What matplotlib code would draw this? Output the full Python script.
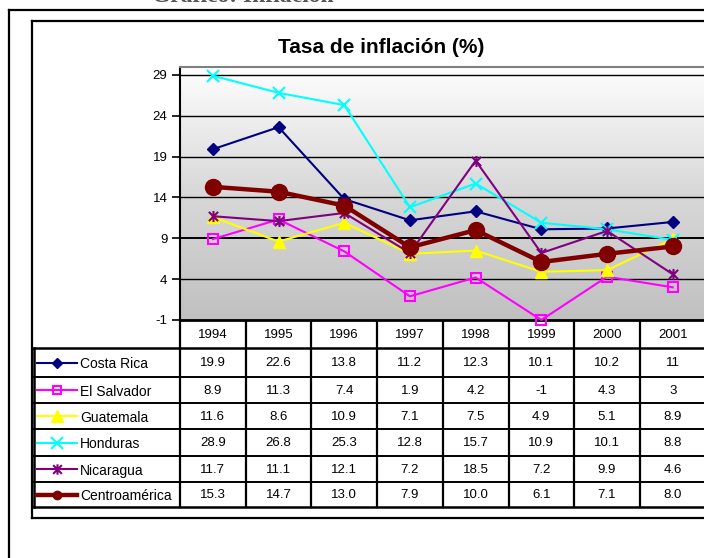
import numpy as np
import matplotlib
matplotlib.use("Agg")
import matplotlib.pyplot as plt
from matplotlib import font_manager
from matplotlib.path import Path
from matplotlib.colors import LinearSegmentedColormap
from matplotlib.transforms import blended_transform_factory

# ---------------- data ----------------
years = ["1994", "1995", "1996", "1997", "1998", "1999", "2000", "2001"]
series_names = ["Costa Rica", "El Salvador", "Guatemala", "Honduras", "Nicaragua", "Centroamérica"]
costa_rica = [19.9, 22.6, 13.8, 11.2, 12.3, 10.1, 10.2, 11]
el_salvador = [8.9, 11.3, 7.4, 1.9, 4.2, -1, 4.3, 3]
guatemala = [11.6, 8.6, 10.9, 7.1, 7.5, 4.9, 5.1, 8.9]
honduras = [28.9, 26.8, 25.3, 12.8, 15.7, 10.9, 10.1, 8.8]
nicaragua = [11.7, 11.1, 12.1, 7.2, 18.5, 7.2, 9.9, 4.6]
centroamerica = [15.3, 14.7, 13.0, 7.9, 10.0, 6.1, 7.1, 8.0]
yticks = [-1, 4, 9, 14, 19, 24, 29]
title = "Tasa de inflación (%)"
heading = "Gráfico: Inflación"

all_series = [costa_rica, el_salvador, guatemala, honduras, nicaragua, centroamerica]

# ---------------- fonts ----------------
names = {f.name for f in font_manager.fontManager.ttflist}
if "Liberation Sans Narrow" in names:
    TFONT, TSIZE = "Liberation Sans Narrow", 10.5
else:
    TFONT, TSIZE = "Liberation Sans", 9.5
plt.rcParams["font.family"] = ["Liberation Sans", "DejaVu Sans"]

# asterisk marker (x plus vertical bar)
star = Path([(-1, -1), (1, 1), (-1, 1), (1, -1), (0, -1.2), (0, 1.2)],
            [Path.MOVETO, Path.LINETO, Path.MOVETO, Path.LINETO, Path.MOVETO, Path.LINETO])

styles = [
    dict(color="#000080", marker="D", ms=6, mfc="#000080", mec="#000080", lw=1.5, lms=5),
    dict(color="#ff00ff", marker="s", ms=6.5, mfc="none", mec="#ff00ff", lw=1.5, lms=5.5, mew=1.5),
    dict(color="#ffff00", marker="^", ms=8.5, mfc="#ffff00", mec="#ffff00", lw=1.5, lms=8),
    dict(color="#00ffff", marker="x", ms=9, mfc="none", mec="#00ffff", lw=1.5, lms=9, mew=1.5),
    dict(color="#800080", marker=star, ms=8, mfc="none", mec="#800080", lw=1.5, lms=7.5, mew=1.5),
    dict(color="#800000", marker="o", ms=11.5, mfc="#800000", mec="#800000", lw=3.2, lms=6),
]

W, H = 704, 558
fig = plt.figure(figsize=(W / 100, H / 100), dpi=100)
fig.patch.set_facecolor("white")

# overlay in pixel coordinates
ov = fig.add_axes([0, 0, 1, 1], zorder=0)
ov.set_xlim(0, W)
ov.set_ylim(H, 0)
ov.axis("off")

# main plot axes (pixels: left 180, right ~705.6, top 66.7, bottom 320)
L, R, T, B = 180, 705.6, 66.7, 320
ax = fig.add_axes([L / W, 1 - B / H, (R - L) / W, (B - T) / H], zorder=2)
ax.set_xlim(-0.5, len(years) - 0.5)
ax.set_ylim(-1, 30)

cmap = LinearSegmentedColormap.from_list("g", ["#c0c0c0", "#d8d8d8", "#fefefe"])
grad = np.linspace(0, 1, 256).reshape(-1, 1)
ax.imshow(grad, extent=(-0.5, len(years) - 0.5, -1, 30), aspect="auto",
          cmap=cmap, origin="lower", zorder=0)

for yv in yticks:
    ax.axhline(yv, color="black", lw=1.0 if yv != 9 else 1.4, zorder=1)

x = np.arange(len(years))
for vals, st in zip(all_series, styles):
    ax.plot(x, vals, color=st["color"], lw=st["lw"], marker=st["marker"], ms=st["ms"],
            mfc=st["mfc"], mec=st["mec"], mew=st.get("mew", 1.0), zorder=3, clip_on=False)

ax.set_yticks(yticks)
ax.set_yticklabels([str(v) for v in yticks], fontsize=TSIZE, family=TFONT)
ax.tick_params(axis="y", direction="out", length=6, width=1.2, pad=3, colors="black")
ax.set_xticks([])
ax.spines["left"].set_linewidth(1.5)
ax.spines["bottom"].set_linewidth(2)
ax.spines["top"].set_color("#808080")
ax.spines["top"].set_linewidth(1.5)
ax.spines["right"].set_visible(False)

# ---------------- frames ----------------
lwf = 1.6
ov.plot([9, 9], [10, 570], color="black", lw=lwf, solid_capstyle="projecting")
ov.plot([9, 720], [10, 10], color="black", lw=lwf, solid_capstyle="projecting")
ov.plot([32, 32], [21, 518], color="black", lw=lwf, solid_capstyle="projecting")
ov.plot([32, 720], [21, 21], color="black", lw=lwf, solid_capstyle="projecting")
ov.plot([32, 720], [518, 518], color="black", lw=lwf, solid_capstyle="projecting")

# partial heading at very top (cut off by the image edge, as in the reference)
ov.text(243, 2.5, heading, family="Liberation Serif", weight="bold", fontsize=17,
        color="#555555", ha="center", va="baseline")

# title
ov.text(381, 53, title, fontsize=15, weight="bold", ha="center", va="baseline")

# ---------------- data table ----------------
trans = blended_transform_factory(ax.transData, ov.transData)
header_top, header_bot = 320, 348
row_edges = [348, 377, 403, 429, 456, 482, 507]

for i in range(len(years) + 1):
    ov.plot([i - 0.5, i - 0.5], [header_top, row_edges[-1]], color="black", lw=1.6,
            transform=trans, solid_capstyle="projecting")
for j, yy in enumerate(row_edges):
    lw = 1.8 if j in (0, len(row_edges) - 1) else 1.4
    ov.plot([34, 720], [yy, yy], color="black", lw=lw, solid_capstyle="projecting")
ov.plot([34, 34], [row_edges[0], row_edges[-1]], color="black", lw=1.8,
        solid_capstyle="projecting")

for i, yr in enumerate(years):
    ov.text(i, (header_top + header_bot) / 2 + 1, yr, transform=trans, ha="center",
            va="center", fontsize=TSIZE, family=TFONT)

for r, (name, vals, st) in enumerate(zip(series_names, all_series, styles)):
    yc = (row_edges[r] + row_edges[r + 1]) / 2 + 1
    fmt = "{:.1f}" if name == "Centroamérica" else "{:g}"
    for i, v in enumerate(vals):
        ov.text(i, yc, fmt.format(v), transform=trans, ha="center", va="center",
                fontsize=TSIZE, family=TFONT)
    ov.plot([37, 77], [yc - 1, yc - 1], color=st["color"], lw=st["lw"])
    ov.plot([57], [yc - 1], marker=st["marker"], ms=st["lms"], mfc=st["mfc"],
            mec=st["mec"], mew=st.get("mew", 1.0), ls="none")
    ov.text(80, yc + 1, name, ha="left", va="center", fontsize=TSIZE + 0.5, family=TFONT)

fig.savefig("out.png", dpi=100, facecolor="white")
